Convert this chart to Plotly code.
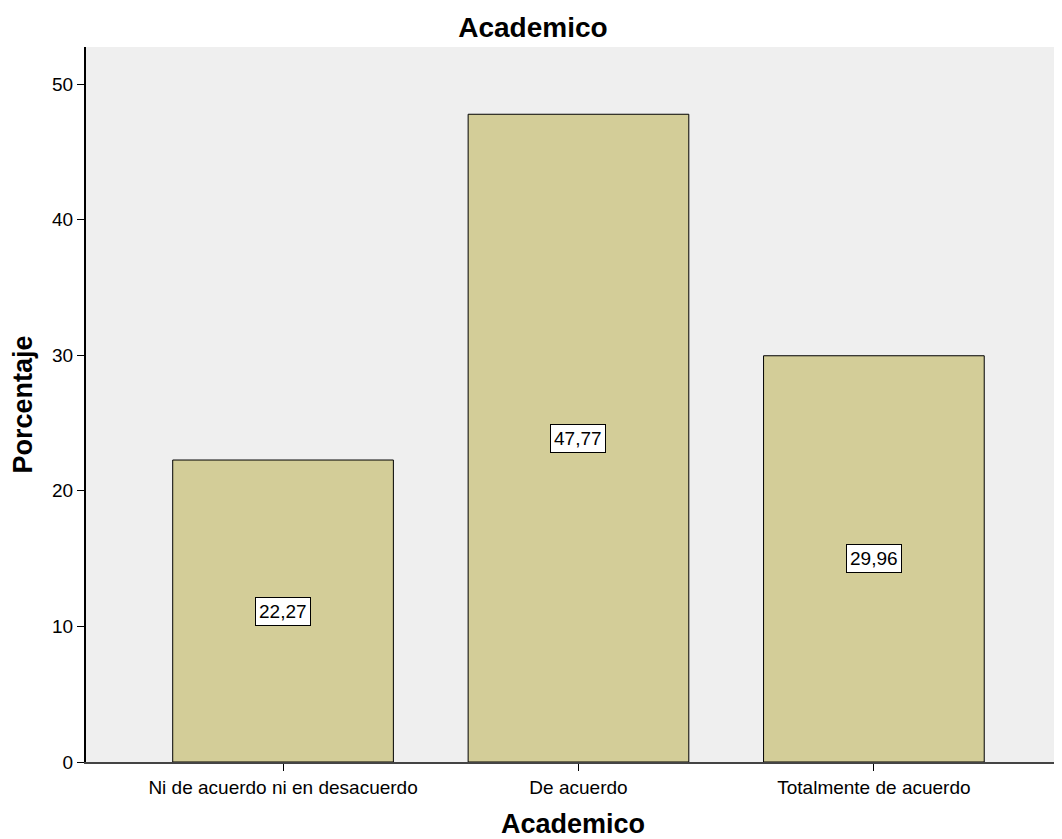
import plotly.graph_objects as go

categorias = ["Ni de acuerdo ni en desacuerdo", "De acuerdo", "Totalmente de acuerdo"]
porcentajes = [22.27, 47.77, 29.96]
etiquetas = ["22,27", "47,77", "29,96"]
y_ticks = [0, 10, 20, 30, 40, 50]

x_pos = list(range(len(categorias)))

fig = go.Figure()
fig.add_trace(go.Bar(
    x=x_pos,
    y=porcentajes,
    width=0.747,
    marker=dict(color="#d3cd98", line=dict(color="black", width=1)),
    hoverinfo="skip",
))

# etiquetas en recuadro blanco a media altura de cada barra
for xp, v, lab in zip(x_pos, porcentajes, etiquetas):
    fig.add_annotation(
        x=xp, y=v / 2, text=lab, showarrow=False,
        bgcolor="white", bordercolor="black", borderwidth=1, borderpad=3,
        font=dict(size=19, color="black"),
    )

# la pagina tiene 8px de margen en el body, por eso 1054x831
fig.update_layout(
    width=1054, height=831,
    margin=dict(l=78, r=0, t=39, b=77),
    paper_bgcolor="white",
    plot_bgcolor="#efefef",
    font=dict(family="Liberation Sans, Arial, sans-serif", color="black"),
    showlegend=False,
    title=dict(text="<b>Academico</b>", x=0.498, xanchor="center",
               y=0.977, yanchor="middle", font=dict(size=28)),
)
fig.update_xaxes(
    range=[-0.667, 2.63],
    tickvals=x_pos, ticktext=categorias,
    ticks="outside", ticklen=7, tickcolor="black",
    tickfont=dict(size=19),
    showline=True, linecolor="#444444", linewidth=2,
    showgrid=False, zeroline=False,
    title=dict(text="<b>Academico</b>", font=dict(size=27), standoff=20),
)
fig.update_yaxes(
    range=[0, 52.73],
    tickvals=y_ticks,
    ticks="outside", ticklen=7, tickcolor="black",
    tickfont=dict(size=19),
    showline=True, linecolor="black", linewidth=2, mirror=True,
    showgrid=False, zeroline=False,
    title=dict(text="<b>Porcentaje</b>", font=dict(size=27), standoff=12),
)

fig.write_html("out.html")
